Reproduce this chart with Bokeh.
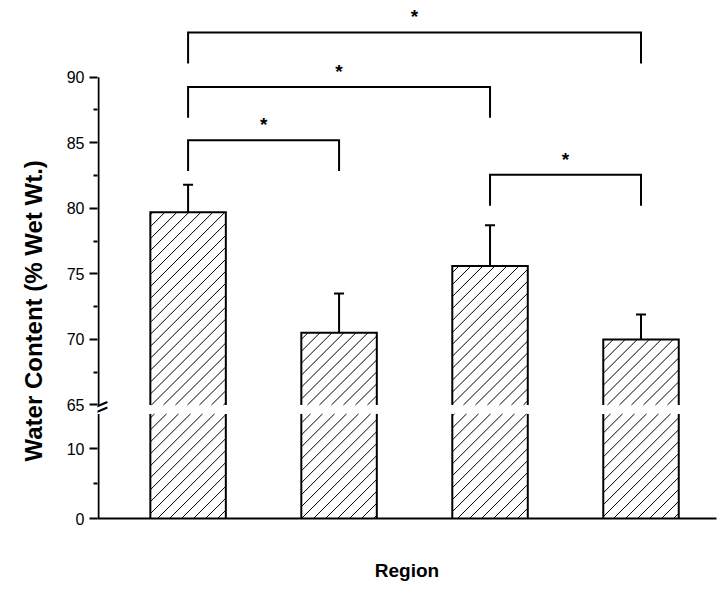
import math
from bokeh.plotting import figure
from bokeh.models import (Range1d, FixedTicker, Whisker, TeeHead,
                          ColumnDataSource, Label, Title)
from bokeh.embed import file_html
from bokeh.resources import INLINE
from bokeh.core.properties import value

# ---------------- data ----------------
regions = [1, 2, 3, 4]
water = [79.7, 70.5, 75.6, 70.0]
sd = [2.1, 3.0, 3.1, 1.9]

upper_ticks = [65, 70, 75, 80, 85, 90]
upper_minor = [67.5, 72.5, 77.5, 82.5, 87.5]
lower_ticks = [0, 10]
lower_minor = [5]

# significance brackets
br_from = [1, 1, 1, 3]
br_to = [4, 3, 2, 4]
br_top = [93.4, 89.25, 85.2, 82.55]
br_text = ["*", "*", "*", "*"]

BREAK_LO = 15   # lower segment ends here
BREAK_HI = 65   # upper segment starts here

# ---------------- layout constants ----------------
FRAME_W, FRAME_H = 619, 512
X_START, X_END = 0.4, 4.5
U_START, U_END = 56.34, 95.24
L_START, L_END = 0.0, 73.14
BAR_W = 0.5
LEG = 2.35
STAR_OFF = 1.2
HATCH_STEP = 12  # px
FONT = "Liberation Sans"

KX = FRAME_W / (X_END - X_START)
KU = FRAME_H / (U_END - U_START)
KL = FRAME_H / (L_END - L_START)


def to_upper(v):
    """position of a lower-segment value on the upper-segment range"""
    return U_START + (v - L_START) * (U_END - U_START) / (L_END - L_START)


p = figure(width=FRAME_W + 97 + 4, height=FRAME_H + 8 + 63,
           x_range=Range1d(X_START, X_END), y_range=Range1d(U_START, U_END),
           output_backend="svg", toolbar_location=None,
           min_border_left=97, min_border_right=4, min_border_top=8,
           min_border_bottom=63)
p.extra_y_ranges = {"low": Range1d(L_START, L_END)}
p.grid.visible = False
p.outline_line_color = None
p.background_fill_color = "white"
p.border_fill_color = "white"

# x axis
xa = p.xaxis[0]
xa.ticker = FixedTicker(ticks=[])
xa.major_tick_out = 0
xa.major_tick_in = 0
xa.minor_tick_out = 0
xa.minor_tick_in = 0
xa.axis_line_width = 2
xa.axis_line_color = "black"
xa.axis_label = "Region"
xa.axis_label_text_font = FONT
xa.axis_label_text_font_style = "bold"
xa.axis_label_text_font_size = "19px"
xa.axis_label_text_color = "black"
xa.axis_label_standoff = 41

# y axis (ticks and labels of both segments)
ya = p.yaxis[0]
ya.ticker = FixedTicker(ticks=upper_ticks + [to_upper(v) for v in lower_ticks],
                        minor_ticks=upper_minor + [to_upper(v) for v in lower_minor])
ya.major_label_overrides = {to_upper(v): str(v) for v in lower_ticks}
ya.axis_line_color = None
ya.major_tick_line_width = 2
ya.minor_tick_line_width = 2
ya.major_tick_out = 8
ya.major_tick_in = 0
ya.minor_tick_out = 4
ya.minor_tick_in = 0
ya.major_label_text_font = FONT
ya.major_label_text_font_size = "16px"
ya.major_label_text_color = "black"
ya.major_label_standoff = 5

# y axis title
ttl = Title(text="Water Content (% Wet Wt.)", align="left", offset=57,
            text_font=FONT, text_font_style="bold", text_font_size="24px",
            text_color="black")
if "standoff" in Title.properties():
    ttl.standoff = 33
p.add_layout(ttl, "left")

# broken y spine (upper and lower pieces)
SPINE_X = X_START + 1.0 / KX
p.segment(x0=[SPINE_X], y0=[BREAK_HI], x1=[SPINE_X], y1=[upper_ticks[-1]],
          line_color="black", line_width=2)
p.segment(x0=[SPINE_X], y0=[0], x1=[SPINE_X], y1=[BREAK_LO],
          line_color="black", line_width=2, y_range_name="low")

# bars (white fill)
src = ColumnDataSource(dict(x=regions, top=water,
                            err_top=[w + s for w, s in zip(water, sd)]))
p.vbar(x="x", width=BAR_W, top="top", bottom=BREAK_HI, source=src,
       fill_color="white", line_color=None)
p.vbar(x="x", width=BAR_W, top=BREAK_LO, bottom=0, source=src,
       y_range_name="low", fill_color="white", line_color=None)


# 45-degree hatch lines inside each bar piece
def hatch_lines(x0, x1, y0, y1, y_lo, k):
    """segments y_px = x_px + c clipped to the rectangle (data units)"""
    px0, px1 = (x0 - X_START) * KX, (x1 - X_START) * KX
    py0, py1 = (y0 - y_lo) * k, (y1 - y_lo) * k
    segs = []
    n0 = math.floor((py0 - px1) / HATCH_STEP)
    n1 = math.ceil((py1 - px0) / HATCH_STEP)
    for n in range(n0, n1 + 1):
        c = n * HATCH_STEP
        a = max(px0, py0 - c)
        b = min(px1, py1 - c)
        if b - a > 0.5:
            segs.append((X_START + a / KX, y_lo + (a + c) / k,
                         X_START + b / KX, y_lo + (b + c) / k))
    return segs


hu, hl = [], []
for x, t in zip(regions, water):
    hu += hatch_lines(x - BAR_W / 2, x + BAR_W / 2, BREAK_HI, t, U_START, KU)
    hl += hatch_lines(x - BAR_W / 2, x + BAR_W / 2, 0, BREAK_LO, L_START, KL)
p.segment(x0=[s[0] for s in hu], y0=[s[1] for s in hu],
          x1=[s[2] for s in hu], y1=[s[3] for s in hu],
          line_color="black", line_width=1)
p.segment(x0=[s[0] for s in hl], y0=[s[1] for s in hl],
          x1=[s[2] for s in hl], y1=[s[3] for s in hl],
          line_color="black", line_width=1, y_range_name="low")

# bar outlines (open at the axis break)
up_xs = [[x - BAR_W / 2, x - BAR_W / 2, x + BAR_W / 2, x + BAR_W / 2] for x in regions]
up_ys = [[BREAK_HI, t, t, BREAK_HI] for t in water]
p.multi_line(up_xs, up_ys, line_color="black", line_width=2, line_join="miter")
lo_xs = [[x + d, x + d] for x in regions for d in (-BAR_W / 2, BAR_W / 2)]
lo_ys = [[0, BREAK_LO] for _ in lo_xs]
p.multi_line(lo_xs, lo_ys, line_color="black", line_width=2, y_range_name="low")

# error bars (upper only)
p.add_layout(Whisker(source=src, base="x", lower="top", upper="err_top",
                     dimension="height", line_width=2, line_color="black",
                     upper_head=TeeHead(size=10, line_width=2, line_color="black"),
                     lower_head=None))

# significance brackets
bxs = [[a, a, b, b] for a, b in zip(br_from, br_to)]
bys = [[h - LEG, h, h, h - LEG] for h in br_top]
p.multi_line(bxs, bys, line_color="black", line_width=2, line_join="miter")
p.text(x=[(a + b) / 2 for a, b in zip(br_from, br_to)],
       y=[h + STAR_OFF for h in br_top], text=br_text,
       text_font=value(FONT), text_font_style="bold", text_font_size="19px",
       text_align="center", text_baseline="middle", text_color="black")

# axis break marks (screen units relative to the frame)
for yb in (114, 108.5):
    p.add_layout(Label(x=0, y=yb, x_units="screen", y_units="screen",
                       text="\u2014", angle=0.4,
                       text_align="center", text_baseline="middle",
                       text_font=FONT, text_font_style="bold",
                       text_font_size="20px", text_color="black"))

open("out.html", "w").write(file_html(p, INLINE))
